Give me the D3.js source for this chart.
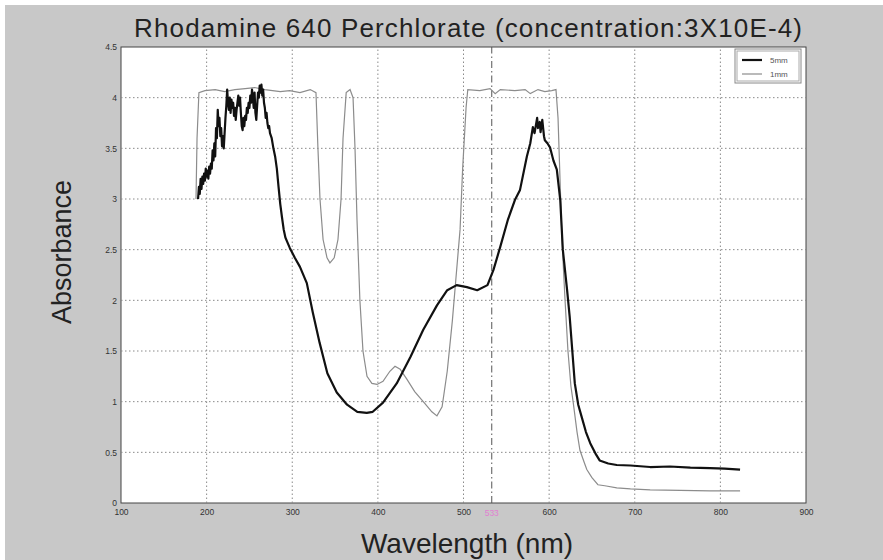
<!DOCTYPE html>
<html><head><meta charset="utf-8">
<script src="https://cdn.jsdelivr.net/npm/d3@7/dist/d3.min.js"></script>
<style>body{margin:0;background:#fff}svg{display:block}</style>
</head><body>
<svg id="c" width="883" height="560"></svg>
<script>
const xTicks = [100,200,300,400,500,600,700,800,900];
const yTicks = [0,0.5,1,1.5,2,2.5,3,3.5,4,4.5];
const yTickLabels = ["0","0.5","1","1.5","2","2.5","3","3.5","4","4.5"];
const seriesNames = ["5mm","1mm"];
const markerWl = 533;
// series 1 (thick black): wavelength nm, absorbance
const blackWl = [190,191,192,193,194,195,196,197,198,199,200,201,202,203,204,205,206,207,208,209,210,211,212,213,214,215,216,217,218,219,220,221,222,223,224,225,226,227,228,229,230,231,232,233,234,235,236,237,238,239,240,241,242,243,244,245,246,247,248,249,250,251,252,253,254,255,256,257,258,259,260,261,262,263,264,265,266,267,268,269,270,271,272,273,274,276,278,280,282,284,286,288,290,292,294,297,303,309,317,324,332,341,352,364,376,387,394,406,422,438,453,469,481,492,504,516,528,535,543,552,560,566,574,578,581,583,586,587,589,590,592,594,595,598,601,605,609,613,616,621,624,630,634,638,643,648,654,659,669,679,695,718,741,765,788,805,823];
const blackA = [3.00,3.12,3.05,3.20,3.10,3.22,3.15,3.25,3.18,3.30,3.22,3.28,3.20,3.32,3.25,3.35,3.30,3.48,3.38,3.55,3.42,3.70,3.60,3.88,3.72,3.80,3.62,3.70,3.52,3.62,3.50,3.65,3.80,3.92,4.08,3.95,3.88,4.00,3.85,3.98,3.90,3.95,3.82,3.90,3.78,3.88,3.95,4.02,3.92,4.00,3.85,3.72,3.68,3.80,3.72,3.82,3.78,3.90,3.85,3.95,3.90,4.02,3.95,4.08,4.00,3.90,4.05,3.85,3.78,3.92,4.05,4.00,4.12,4.05,4.13,4.02,4.08,3.95,3.90,3.80,3.85,3.75,3.70,3.72,3.65,3.60,3.50,3.42,3.30,3.12,2.95,2.82,2.70,2.62,2.58,2.52,2.42,2.33,2.17,1.88,1.58,1.28,1.09,0.97,0.90,0.89,0.90,0.99,1.18,1.44,1.71,1.95,2.10,2.15,2.13,2.10,2.15,2.30,2.53,2.80,2.99,3.09,3.42,3.55,3.71,3.65,3.80,3.70,3.76,3.66,3.78,3.62,3.58,3.55,3.51,3.38,3.29,2.99,2.50,2.10,1.84,1.18,0.97,0.85,0.70,0.59,0.49,0.42,0.39,0.375,0.37,0.355,0.36,0.35,0.345,0.34,0.33];
// series 2 (thin grey)
const greyWl = [187.6,188.8,191,198,210,221,233,245,256,268,286,297,309,321,327.7,330,332.4,336,340.6,344,349,353.4,357,359.3,363,367.5,371,373.3,375.6,379,382.6,387.3,393,399,406,414,420,426,434,443,455,463,469,475,481,487,491,496,499,503,505,519,531,537,543,560,572,578,587,595,603,608,610.4,612.7,615,618.6,622,625.5,628,632.6,636,641,644,650,657,665,679,695,718,753,788,823];
const greyA = [3.00,3.60,4.05,4.07,4.08,4.06,4.08,4.09,4.10,4.08,4.06,4.07,4.05,4.08,4.05,3.50,3.00,2.60,2.42,2.37,2.42,2.60,3.00,3.60,4.05,4.08,4.00,3.50,2.80,2.00,1.50,1.25,1.18,1.17,1.20,1.30,1.35,1.32,1.22,1.10,0.98,0.90,0.86,0.95,1.30,1.80,2.20,2.70,3.30,3.90,4.08,4.07,4.09,4.04,4.08,4.07,4.08,4.04,4.08,4.06,4.07,4.08,3.80,3.20,2.60,2.00,1.50,1.15,1.00,0.70,0.52,0.40,0.33,0.25,0.18,0.17,0.15,0.14,0.13,0.125,0.12,0.12];

const svg = d3.select("#c");
svg.append("rect").attr("width",883).attr("height",560).attr("fill","#fff");
svg.append("rect").attr("x",5).attr("y",5).attr("width",878).attr("height",555).attr("fill","#c8c8c8");

const x = d3.scaleLinear().domain([100,900]).range([121,806]);
const y = d3.scaleLinear().domain([0,4.5]).range([503,47]);

svg.append("rect").attr("x",x(100)).attr("y",y(4.5)).attr("width",x(900)-x(100)).attr("height",y(0)-y(4.5))
  .attr("fill","#fff").attr("stroke","#444").attr("stroke-width",1);

const g = svg.append("g");
g.selectAll(".gx").data(xTicks.slice(1,-1)).join("line")
  .attr("x1",d=>x(d)).attr("x2",d=>x(d)).attr("y1",y(0)).attr("y2",y(4.5))
  .attr("stroke","#8a8a8a").attr("stroke-dasharray","1.5,2.5");
g.selectAll(".gy").data(yTicks.slice(1,-1)).join("line")
  .attr("y1",d=>y(d)).attr("y2",d=>y(d)).attr("x1",x(100)).attr("x2",x(900))
  .attr("stroke","#8a8a8a").attr("stroke-dasharray","1.5,2.5");
g.append("line").attr("x1",x(markerWl)).attr("x2",x(markerWl)).attr("y1",y(0)).attr("y2",y(4.5))
  .attr("stroke","#555").attr("stroke-dasharray","7,3,1.5,3");

const xAxis = d3.axisBottom(x).tickValues(xTicks).tickSize(0).tickPadding(6).tickFormat(d3.format("d"));
const xa = svg.append("g").attr("transform",`translate(0,${y(0)})`).call(xAxis);
xa.select(".domain").remove();
xa.selectAll("text").attr("font-family","Liberation Sans, Arial").attr("font-size",8.5).attr("fill","#333");

const yAxis = d3.axisLeft(y).tickValues(yTicks).tickSize(0).tickPadding(4).tickFormat((d,i)=>yTickLabels[i]);
const ya = svg.append("g").attr("transform",`translate(${x(100)},0)`).call(yAxis);
ya.select(".domain").remove();
ya.selectAll("text").attr("font-family","Liberation Sans, Arial").attr("font-size",8.5).attr("fill","#333");

svg.append("text").attr("x",x(markerWl)).attr("y",y(0)+13).attr("text-anchor","middle")
  .attr("font-family","Liberation Sans, Arial").attr("font-size",8.5).attr("fill","#e27fd2").text(markerWl);

const line = d3.line().x(d=>x(d[0])).y(d=>y(d[1]));
svg.append("path").datum(greyWl.map((w,i)=>[w,greyA[i]])).attr("d",line)
  .attr("fill","none").attr("stroke","#8c8c8c").attr("stroke-width",1.2);
svg.append("path").datum(blackWl.map((w,i)=>[w,blackA[i]])).attr("d",line)
  .attr("fill","none").attr("stroke","#111").attr("stroke-width",2.2).attr("stroke-linejoin","round");

// legend
const lg = svg.append("g").attr("transform","translate(735,49)");
lg.append("rect").attr("width",66).attr("height",34).attr("fill","#fff").attr("stroke","#888");
lg.append("rect").attr("x",2).attr("y",2).attr("width",62).attr("height",30).attr("fill","none").attr("stroke","#aaa");
[["#111",2.2],["#8c8c8c",1.2]].forEach((s,i)=>{
  lg.append("line").attr("x1",7).attr("x2",27).attr("y1",11+i*14).attr("y2",11+i*14).attr("stroke",s[0]).attr("stroke-width",s[1]);
  lg.append("text").attr("x",35).attr("y",14+i*14).attr("font-family","Liberation Sans, Arial").attr("font-size",8).attr("fill","#555").text(seriesNames[i]);
});

svg.append("text").attr("x",468).attr("y",37).attr("text-anchor","middle")
  .attr("font-family","Liberation Sans, Arial").attr("font-size",26).attr("fill","#222")
  .attr("textLength",668).attr("lengthAdjust","spacing")
  .text("Rhodamine 640 Perchlorate (concentration:3X10E-4)");
svg.append("text").attr("transform","translate(71,252) rotate(-90)").attr("text-anchor","middle")
  .attr("font-family","Liberation Sans, Arial").attr("font-size",27).attr("fill","#222").text("Absorbance");
svg.append("text").attr("x",467).attr("y",553).attr("text-anchor","middle")
  .attr("font-family","Liberation Sans, Arial").attr("font-size",28).attr("fill","#222").text("Wavelength (nm)");
</script>
</body></html>
